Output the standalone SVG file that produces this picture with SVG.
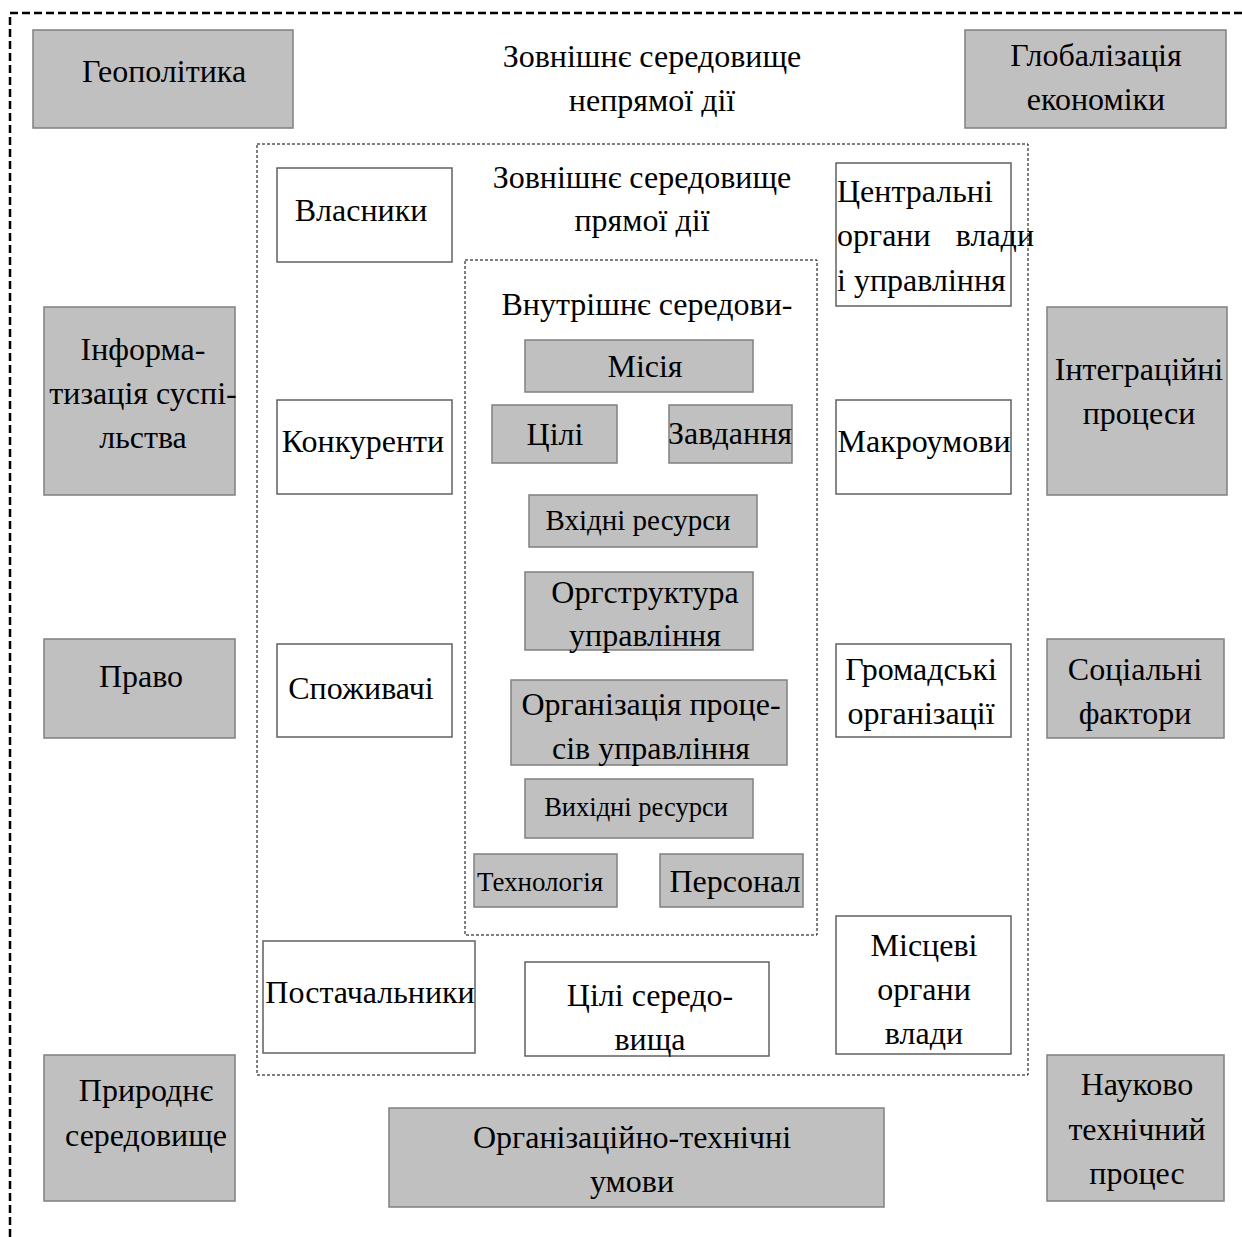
<svg xmlns="http://www.w3.org/2000/svg" width="1242" height="1237" viewBox="0 0 1242 1237">
<style>
text{font-family:"Liberation Serif","Times New Roman",serif;font-size:32px;fill:#000;text-anchor:middle}
.s{font-size:29px}
.s2{font-size:26.5px}
.xs{font-size:27px}
.l{text-anchor:start}
.r{text-anchor:end}
.g{fill:#c0c0c0;stroke:#808080;stroke-width:1.5}
.w{fill:#fff;stroke:#606060;stroke-width:1.5}
.fr{fill:none;stroke:#000;stroke-width:1;stroke-dasharray:3 2}
</style>
<rect width="1242" height="1237" fill="#fff"/>
<g id="frames">
<path d="M10 1237 V13 H1242" fill="none" stroke="#000" stroke-width="2.5" stroke-dasharray="8 4"/>
<rect class="fr" x="257" y="144" width="771" height="931"/>
<rect class="fr" x="465" y="260" width="352" height="675"/>
</g>
<g id="connectors"></g>
<g id="title-outer"><text x="652" y="67">Зовнішнє середовище</text><text x="652" y="111">непрямої дії</text></g>
<g id="title-direct"><text x="642" y="188">Зовнішнє середовище</text><text x="642" y="231">прямої дії</text></g>
<g id="title-inner"><text x="647" y="315">Внутрішнє середови-</text></g>
<g id="geopolitika"><rect class="g" x="33" y="30" width="260" height="98"/><text x="164" y="82">Геополітика</text></g>
<g id="globalizatsiia"><rect class="g" x="965" y="30" width="261" height="98"/><text x="1096" y="66">Глобалізація</text><text x="1096" y="110">економіки</text></g>
<g id="vlasnyky"><rect class="w" x="277" y="168" width="175" height="94"/><text x="361" y="221">Власники</text></g>
<g id="tsentralni"><rect class="w" x="836" y="163" width="175" height="143"/><text class="l" x="837" y="202">Центральні</text><text class="l" x="837" y="246">органи</text><text class="r" x="1034" y="246">влади</text><text class="l" x="837" y="291">і управління</text></g>
<g id="informatyzatsiia"><rect class="g" x="44" y="307" width="191" height="188"/><text x="143" y="360">Інформа-</text><text x="143" y="404">тизація суспі-</text><text x="143" y="448">льства</text></g>
<g id="intehratsiini"><rect class="g" x="1047" y="307" width="180" height="188"/><text x="1139" y="380">Інтеграційні</text><text x="1139" y="424">процеси</text></g>
<g id="misiia"><rect class="g" x="525" y="340" width="228" height="52"/><text x="645" y="377">Місія</text></g>
<g id="tsili"><rect class="g" x="492" y="405" width="125" height="58"/><text x="555" y="445">Цілі</text></g>
<g id="zavdannia"><rect class="g" x="669" y="405" width="123" height="58"/><text x="730" y="444">Завдання</text></g>
<g id="konkurenty"><rect class="w" x="277" y="400" width="175" height="94"/><text x="363" y="452">Конкуренти</text></g>
<g id="makroumovy"><rect class="w" x="836" y="400" width="175" height="94"/><text x="924" y="452">Макроумови</text></g>
<g id="vkhidni"><rect class="g" x="529" y="495" width="228" height="52"/><text class="s" x="638" y="530">Вхідні ресурси</text></g>
<g id="orgstruktura"><rect class="g" x="525" y="572" width="228" height="78"/><text x="645" y="603">Оргструктура</text><text x="645" y="646">управління</text></g>
<g id="pravo"><rect class="g" x="44" y="639" width="191" height="99"/><text x="141" y="687">Право</text></g>
<g id="spozhyvachi"><rect class="w" x="277" y="644" width="175" height="93"/><text x="361" y="699">Споживачі</text></g>
<g id="orhanizatsiia-protsesiv"><rect class="g" x="511" y="680" width="276" height="85"/><text x="651" y="715">Організація проце-</text><text x="651" y="759">сів управління</text></g>
<g id="hromadski"><rect class="w" x="836" y="644" width="175" height="93"/><text x="921" y="680">Громадські</text><text x="921" y="724">організації</text></g>
<g id="sotsialni"><rect class="g" x="1047" y="639" width="177" height="99"/><text x="1135" y="680">Соціальні</text><text x="1135" y="724">фактори</text></g>
<g id="vykhidni"><rect class="g" x="525" y="779" width="228" height="59"/><text class="s2" x="636" y="816">Вихідні ресурси</text></g>
<g id="tekhnolohiia"><rect class="g" x="474" y="854" width="143" height="53"/><text class="xs" x="540" y="891">Технологія</text></g>
<g id="personal"><rect class="g" x="660" y="854" width="143" height="53"/><text x="735" y="892">Персонал</text></g>
<g id="postachalnyky"><rect class="w" x="263" y="941" width="212" height="112"/><text x="370" y="1003">Постачальники</text></g>
<g id="tsili-seredovyshcha"><rect class="w" x="525" y="962" width="244" height="94"/><text x="650" y="1006">Цілі середо-</text><text x="650" y="1050">вища</text></g>
<g id="mistsevi"><rect class="w" x="836" y="916" width="175" height="138"/><text x="924" y="956">Місцеві</text><text x="924" y="1000">органи</text><text x="924" y="1044">влади</text></g>
<g id="pryrodne"><rect class="g" x="44" y="1055" width="191" height="146"/><text x="146" y="1101">Природнє</text><text x="146" y="1146">середовище</text></g>
<g id="orhanizatsiino-tekhnichni"><rect class="g" x="389" y="1108" width="495" height="99"/><text x="632" y="1148">Організаційно-технічні</text><text x="632" y="1192">умови</text></g>
<g id="naukovo"><rect class="g" x="1047" y="1055" width="177" height="146"/><text x="1137" y="1095">Науково</text><text x="1137" y="1140">технічний</text><text x="1137" y="1184">процес</text></g>
</svg>
